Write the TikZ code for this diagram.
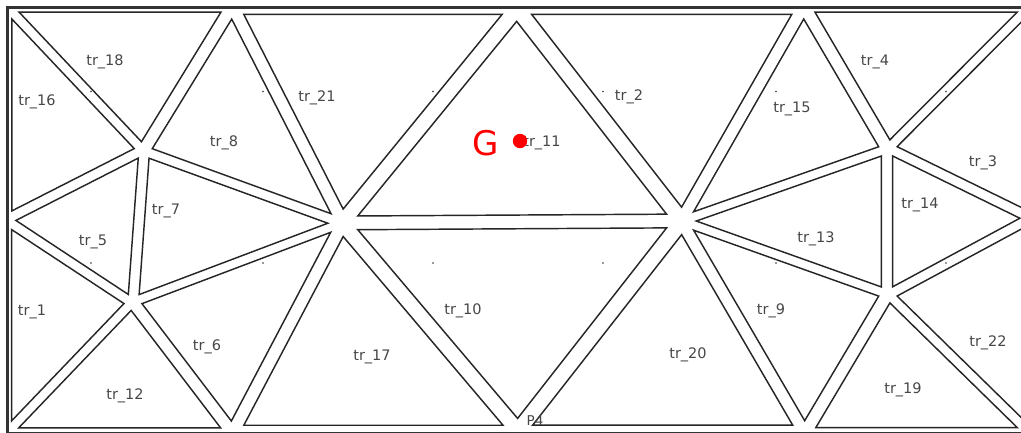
\documentclass[tikz,border=0pt]{standalone}
\usepackage{fontspec}
\setmainfont{DejaVu Sans}
\usetikzlibrary{calc}
\def\shrink{0.903}
\newcommand\meshtri[3]{%
  \coordinate (cen) at ($0.333333*(#1)+0.333333*(#2)+0.333334*(#3)$);
  \draw[triedge] ($(cen)!\shrink!(#1)$) -- ($(cen)!\shrink!(#2)$) -- ($(cen)!\shrink!(#3)$) -- cycle;
}
\begin{document}
\begin{tikzpicture}[x=1pt,y=-1pt,
  triedge/.style={draw=black!85, line width=1.45pt, line join=miter},
  frameline/.style={draw=black!80, line width=2.5pt},
  lab/.style={text=black!72, font=\fontsize{14.5}{15}\selectfont, inner sep=0pt},
  griddot/.style={fill=black!80},
  ]
\useasboundingbox (0,0) rectangle (1021,432);
\clip (0,0) rectangle (1021,432);
\fill[white] (0,0) rectangle (1021,432);
% mesh vertices
\coordinate (TL) at (7.5,7.5);
\coordinate (T1) at (231,7.5);
\coordinate (D)  at (517,7.5);
\coordinate (F)  at (805,7.5);
\coordinate (TR) at (1029,7.5);
\coordinate (L)  at (7.5,220);
\coordinate (R)  at (1029,218);
\coordinate (BL) at (7.5,432);
\coordinate (J)  at (231,432);
\coordinate (I)  at (518,432);
\coordinate (K)  at (806,432);
\coordinate (BR) at (1029,432);
\coordinate (A)  at (143,151);
\coordinate (B)  at (132,302);
\coordinate (C)  at (341,223);
\coordinate (E)  at (683,221);
\coordinate (Gv) at (888,149);
\coordinate (H)  at (888,294);
% frame
\draw[frameline] (7.3,7.3) rectangle (1029,433.5);
% triangles
\meshtri{TL}{T1}{A}   % tr_18
\meshtri{TL}{A}{L}    % tr_16
\meshtri{T1}{A}{C}    % tr_8
\meshtri{T1}{C}{D}    % tr_21
\meshtri{D}{C}{E}     % tr_11
\meshtri{D}{E}{F}     % tr_2
\meshtri{F}{E}{Gv}    % tr_15
\meshtri{F}{Gv}{TR}   % tr_4
\meshtri{TR}{Gv}{R}   % tr_3
\meshtri{Gv}{H}{R}    % tr_14
\meshtri{Gv}{E}{H}    % tr_13
\meshtri{E}{H}{K}     % tr_9
\meshtri{H}{R}{BR}    % tr_22
\meshtri{H}{K}{BR}    % tr_19
\meshtri{E}{K}{I}     % tr_20
\meshtri{C}{E}{I}     % tr_10
\meshtri{C}{I}{J}     % tr_17
\meshtri{C}{J}{B}     % tr_6
\meshtri{A}{C}{B}     % tr_7
\meshtri{A}{B}{L}     % tr_5
\meshtri{L}{B}{BL}    % tr_1
\meshtri{B}{BL}{J}    % tr_12
% grid dots
\foreach \gx in {91,263,433,603,776,946}{
  \foreach \gy in {91.5,263}{
    \fill[griddot] (\gx,\gy) circle (0.8pt);
  }
}
% labels
\node[lab] (l18) at (105,62)  {tr\_18};
\node[lab] (l16) at (37,102)  {tr\_16};
\node[lab] (l21) at (317,98)  {tr\_21};
\node[lab] (l8)  at (224,143) {tr\_8};
\node[lab] (l7)  at (166,211) {tr\_7};
\node[lab] (l5)  at (93,242)  {tr\_5};
\node[lab] (l1)  at (32,312)  {tr\_1};
\node[lab] (l12) at (125,396) {tr\_12};
\node[lab] (l6)  at (207,347) {tr\_6};
\node[lab] (l17) at (372,357) {tr\_17};
\node[lab] (l10) at (463,311) {tr\_10};
\node[lab] (l11) at (542,143) {tr\_11};
\node[lab] (l2)  at (629,97)  {tr\_2};
\node[lab] (l15) at (792,109) {tr\_15};
\node[lab] (l4)  at (875,62)  {tr\_4};
\node[lab] (l3)  at (983,163) {tr\_3};
\node[lab] (l14) at (920,205) {tr\_14};
\node[lab] (l13) at (816,239) {tr\_13};
\node[lab] (l9)  at (771,311) {tr\_9};
\node[lab] (l20) at (688,355) {tr\_20};
\node[lab] (l19) at (903,390) {tr\_19};
\node[lab] (l22) at (988,343) {tr\_22};
\node[lab, font=\fontsize{13.5}{14}\selectfont] (p4) at (535,421) {P4};
% centroid marker
\fill[red] (520,141) circle (7.2pt);
\node[text=red, font=\fontsize{34}{34}\selectfont, inner sep=0pt] (gl) at (486,143) {G};
\end{tikzpicture}
\end{document}
